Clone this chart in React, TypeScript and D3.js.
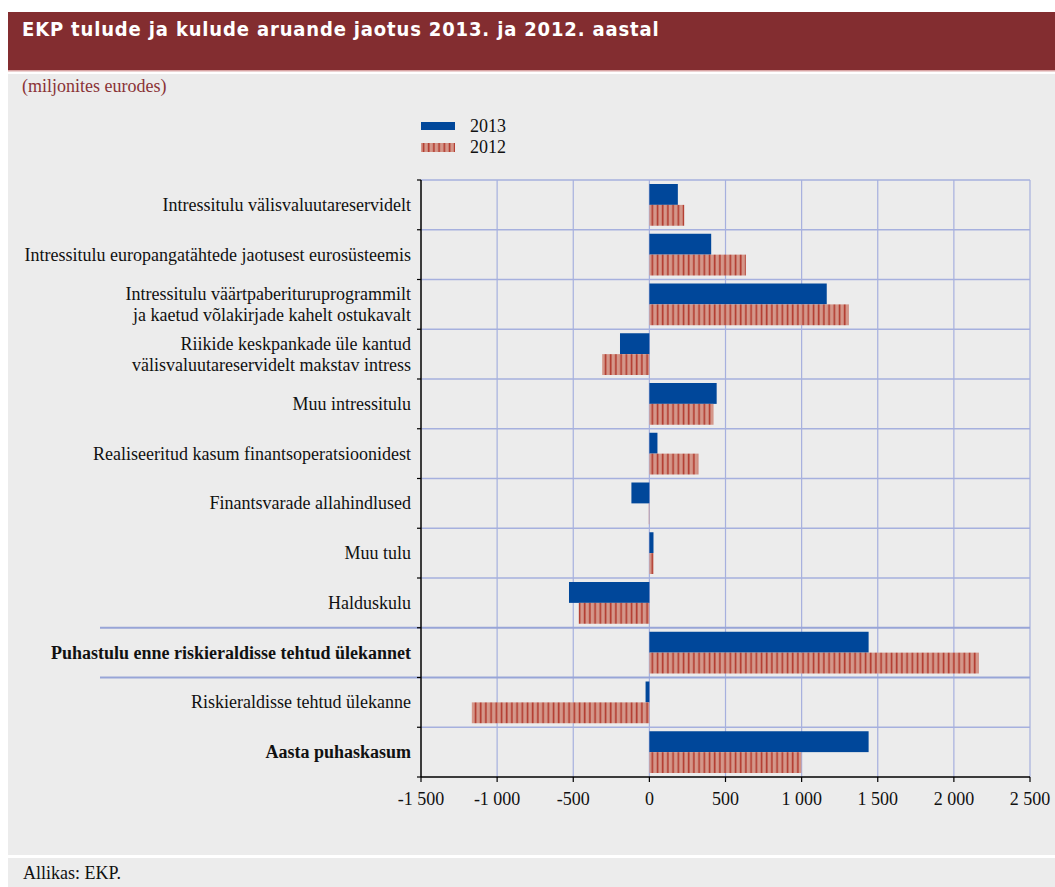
import React from 'react';
import * as d3 from 'd3';

// values in EUR millions
const categories: string[][] = [
  ['Intressitulu välisvaluutareservidelt'],
  ['Intressitulu europangatähtede jaotusest eurosüsteemis'],
  ['Intressitulu väärtpaberituruprogrammilt', 'ja kaetud võlakirjade kahelt ostukavalt'],
  ['Riikide keskpankade üle kantud', 'välisvaluutareservidelt makstav intress'],
  ['Muu intressitulu'],
  ['Realiseeritud kasum finantsoperatsioonidest'],
  ['Finantsvarade allahindlused'],
  ['Muu tulu'],
  ['Halduskulu'],
  ['Puhastulu enne riskieraldisse tehtud ülekannet'],
  ['Riskieraldisse tehtud ülekanne'],
  ['Aasta puhaskasum'],
];
const boldRows = [9, 11];
const separatorRows = [9, 10]; // full-width lines above these rows

const values2013 = [187, 406, 1165, -193, 442, 53, -118, 27, -528, 1440, -25, 1440];
const values2012 = [229, 634, 1310, -310, 421, 322, -4, 27, -464, 2164, -1166, 998];

const xTicks = [-1500, -1000, -500, 0, 500, 1000, 1500, 2000, 2500];
const seriesNames = ['2013', '2012'];

const W = 1055;
const H = 887;
const left = 421;
const right = 1030;
const top = 180;
const bottom = 777;

const serif = '"Liberation Serif", "Times New Roman", Times, serif';
const fs = 18;
const blue = '#00479A';
const gridColor = '#A6B0DE';

const fmt = (v: number) => {
  const s = Math.abs(v).toString().replace(/\B(?=(\d{3})+(?!\d))/g, ' ');
  return (v < 0 ? '-' : '') + s;
};

const App: React.FC = () => {
  const x = d3.scaleLinear().domain([-1500, 2500]).range([left, right]);
  const y = d3.scaleBand<number>()
    .domain(d3.range(categories.length))
    .range([top, bottom]);
  const bh = y.bandwidth();
  const pad = 4;
  const barH = (bh - 2 * pad) / 2;

  const barX = (v: number) => Math.min(x(0), x(v));
  const barW = (v: number) => Math.abs(x(v) - x(0));

  return (
    <div style={{ position: 'absolute', left: 0, top: 0 }}>
      <svg width={W} height={H} style={{ display: 'block', background: '#fff' }}>
        <defs>
          <pattern id="stripes" patternUnits="userSpaceOnUse" width={5.2} height={10}>
            <rect width={5.2} height={10} fill="#D4978A" />
            <rect x={1.5} width={1.6} height={10} fill="#B23A2E" />
          </pattern>
        </defs>

        {/* title band */}
        <rect x={8} y={12} width={W - 8} height={58} fill="#832D30" />
        <rect x={8} y={70} width={W - 8} height={1.5} fill="#D9A5A5" />
        <text x={22} y={36} fill="#fff" fontFamily='"DejaVu Sans Condensed", "DejaVu Sans", sans-serif'
          fontWeight="bold" fontSize={20} letterSpacing={0.85}>
          EKP tulude ja kulude aruande jaotus 2013. ja 2012. aastal
        </text>

        {/* grey panels */}
        <rect x={8} y={74} width={W - 8} height={781} fill="#ECECEC" />
        <rect x={8} y={858} width={W - 8} height={29} fill="#ECECEC" />

        <text x={22} y={92} fill="#8A3336" fontFamily={serif} fontSize={fs}>(miljonites eurodes)</text>

        {/* legend */}
        <rect x={421} y={122} width={34} height={8} fill={blue} />
        <text x={470} y={132} fontFamily={serif} fontSize={fs} fill="#111">{seriesNames[0]}</text>
        <rect x={421} y={143} width={34} height={9} fill="url(#stripes)" />
        <text x={470} y={153} fontFamily={serif} fontSize={fs} fill="#111">{seriesNames[1]}</text>

        {/* vertical grid */}
        {xTicks.slice(1).map(t => (
          <line key={'v' + t} x1={x(t)} x2={x(t)} y1={top} y2={bottom} stroke={gridColor} strokeWidth={1.2} />
        ))}
        {/* horizontal grid */}
        {d3.range(categories.length).map(i => {
          const sep = separatorRows.includes(i);
          return (
            <line key={'h' + i} x1={sep ? 100 : left} x2={right} y1={y(i)!} y2={y(i)!}
              stroke={sep ? '#98A5D7' : gridColor} strokeWidth={sep ? 2 : 1.5} />
          );
        })}

        {/* bars */}
        {values2013.map((v, i) => (
          <rect key={'a' + i} x={barX(v)} y={y(i)! + pad} width={barW(v)} height={barH} fill={blue} />
        ))}
        {values2012.map((v, i) => (
          <rect key={'b' + i} x={barX(v)} y={y(i)! + pad + barH} width={barW(v)} height={barH} fill="url(#stripes)" />
        ))}

        {/* axes */}
        <line x1={left} x2={left} y1={top} y2={bottom} stroke="#000" strokeWidth={1.5} />
        {d3.range(categories.length + 1).map(i => {
          const yy = top + i * bh;
          return <line key={'yt' + i} x1={left - 4} x2={left} y1={yy} y2={yy} stroke="#000" strokeWidth={1.2} />;
        })}
        <line x1={left} x2={right} y1={bottom} y2={bottom} stroke="#000" strokeWidth={1.5} />
        {xTicks.map(t => (
          <g key={'xt' + t}>
            <line x1={x(t)} x2={x(t)} y1={bottom} y2={bottom + 5} stroke="#000" strokeWidth={1.2} />
            <text x={x(t)} y={805} textAnchor="middle" fontFamily={serif} fontSize={fs} fill="#111">{fmt(t)}</text>
          </g>
        ))}

        {/* category labels */}
        {categories.map((lines, i) => {
          const cy = y(i)! + bh / 2;
          const lh = 21;
          const start = cy - ((lines.length - 1) * lh) / 2 + 6;
          return (
            <text key={'c' + i} textAnchor="end" fontFamily={serif} fontSize={fs} fill="#111"
              fontWeight={boldRows.includes(i) ? 'bold' : 'normal'}>
              {lines.map((l, j) => (
                <tspan key={j} x={411} y={start + j * lh}>{l}</tspan>
              ))}
            </text>
          );
        })}

        <text x={23} y={879} fontFamily={serif} fontSize={fs} fill="#111">Allikas: EKP.</text>
      </svg>
    </div>
  );
};

export default App;
